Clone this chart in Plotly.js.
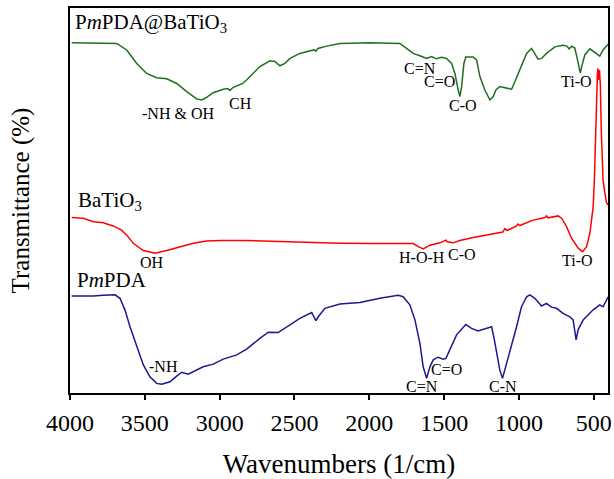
<!DOCTYPE html>
<html>
<head>
<meta charset="utf-8">
<script src="https://cdn.plot.ly/plotly-3.0.1.min.js"></script>
<style>html,body{margin:0;padding:0;background:#fff;}#chart{width:614px;height:479px;}</style>
</head>
<body>
<div id="chart"></div>
<script>
// PmPDA@BaTiO3 (green)
const wnComposite = [3989,3688,3621,3554,3488,3421,3354,3287,3220,3154,3120,3087,3043,2976,2945,2931,2909,2864,2846,2820,2776,2731,2664,2631,2597,2564,2530,2464,2375,2370,2357,2343,2285,2196,1996,1796,1751,1707,1662,1617,1584,1550,1517,1484,1450,1428,1406,1395,1383,1368,1355,1306,1283,1261,1228,1194,1172,1154,1128,1083,1049,1027,994,949,916,894,872,849,816,760,705,680,665,647,627,611,598,590,580,560,526,482,460,438,404];
const tComposite = [91.0,90.8,89.1,85.6,83.0,81.9,81.6,80.4,78.3,76.4,76.1,76.8,78.0,78.9,79.1,78.6,79.4,80.0,80.4,81.3,83.0,84.8,86.3,86.1,85.0,85.6,86.9,88.2,89.1,89.2,88.8,89.5,90.1,90.8,91.0,90.8,89.5,88.2,87.6,86.9,87.4,86.8,87.2,86.9,85.6,83.0,78.7,77.0,79.6,85.6,87.3,87.3,86.5,82.2,78.7,76.1,77.0,78.7,79.6,79.1,78.9,80.9,83.9,88.2,89.5,88.2,86.7,86.9,88.2,89.9,90.3,90.1,89.4,90.1,89.6,87.0,84.4,83.1,84.9,87.8,89.4,88.1,87.5,89.1,90.6];

// BaTiO3 (red)
const wnBaTiO3 = [3989,3911,3844,3778,3711,3655,3621,3577,3510,3432,3354,3265,3176,3087,2998,2820,2508,2196,1976,1707,1673,1640,1595,1528,1488,1480,1440,1395,1306,1216,1128,1108,1094,1079,1016,1007,994,905,827,816,805,738,715,682,649,604,575,548,526,504,496,486,476,472,466,462,456,450,438,426,415,404];
const tBaTiO3 = [45.6,45.4,44.5,44.2,43.4,42.3,41.0,38.9,37.0,36.3,37.0,38.0,38.9,39.5,39.6,39.6,39.2,38.9,38.8,38.8,38.0,37.4,38.4,39.0,39.7,39.3,39.0,39.6,40.4,41.0,41.5,41.8,42.7,42.2,43.4,43.9,43.5,44.9,45.6,46.0,45.5,46.0,45.4,43.2,40.2,37.6,36.7,38.0,41.5,48.4,55.3,70.9,82.6,84.3,81.3,83.9,80.0,68.3,55.3,51.9,49.4,48.8];

// PmPDA (blue)
const wnPmPDA = [3989,3844,3778,3699,3666,3633,3599,3554,3510,3466,3421,3387,3332,3287,3254,3210,3176,3110,3043,2976,2886,2820,2731,2675,2609,2530,2464,2385,2370,2357,2341,2297,2196,2063,1929,1807,1774,1729,1695,1662,1640,1617,1595,1573,1540,1506,1488,1462,1417,1355,1317,1273,1216,1183,1168,1150,1128,1110,1094,1061,1016,983,949,927,894,849,816,783,749,705,660,638,627,618,605,571,504,460,438,404];
const tPmPDA = [25.2,25.2,25.4,25.5,24.6,21.6,17.2,12.0,7.3,4.2,2.5,2.3,2.9,4.4,5.4,4.9,5.5,6.8,7.5,8.8,9.9,11.4,14.2,15.8,15.7,17.7,19.4,20.9,19.8,18.8,19.8,22.0,23.1,23.5,24.6,25.4,25.0,22.9,19.0,12.9,6.8,3.8,6.8,8.6,9.3,8.8,9.0,11.2,15.1,17.8,16.8,16.1,16.8,17.2,14.6,10.3,6.0,3.8,6.0,10.3,17.2,22.4,25.0,25.5,24.6,22.6,23.3,22.3,22.0,20.7,19.8,19.0,16.4,13.8,16.4,19.0,21.6,22.9,22.4,25.0];

const xTicks = [4000,3500,3000,2500,2000,1500,1000,500];

const serif = "Liberation Serif";

const traces = [
  {x: wnComposite, y: tComposite, mode: 'lines', line: {color: '#1f6e1f', width: 1.5}, name: 'PmPDA@BaTiO3'},
  {x: wnBaTiO3, y: tBaTiO3, mode: 'lines', line: {color: '#ff0000', width: 1.5}, name: 'BaTiO3'},
  {x: wnPmPDA, y: tPmPDA, mode: 'lines', line: {color: '#1a1a8e', width: 1.5}, name: 'PmPDA'}
];

function lab(text, x, y, size, xanchor) {
  return {text: text, x: x, y: y, xref: 'x', yref: 'y', showarrow: false,
    xanchor: xanchor || 'center', yanchor: 'middle',
    font: {family: serif, size: size, color: '#000'}};
}

const annotations = [
  lab('P<i>m</i>PDA@BaTiO<sub>3</sub>', 3978, 96.0, 21, 'left'),
  lab('-NH &amp; OH', 3279, 72.5, 16),
  lab('CH', 2864, 75.3, 16),
  lab('C=N', 1662, 84.2, 16),
  lab('C=O', 1528, 80.8, 16),
  lab('C-O', 1375, 74.8, 16),
  lab('Ti-O', 613, 80.8, 16),
  lab('BaTiO<sub>3</sub>', 3960, 49.8, 21, 'left'),
  lab('OH', 3452, 33.8, 16),
  lab('P<i>m</i>PDA', 3967, 29.4, 21, 'left'),
  lab('-NH', 3372, 7.0, 16),
  lab('H-O-H', 1649, 35.1, 16),
  lab('C-O', 1382, 36.1, 16),
  lab('Ti-O', 607, 34.5, 16),
  lab('C=O', 1482, 6.2, 16),
  lab('C=N', 1649, 1.8, 16),
  lab('C-N', 1108, 1.8, 16)
];

const layout = {
  width: 614, height: 479,
  margin: {l: 70, r: 6, t: 8, b: 86},
  paper_bgcolor: '#fff', plot_bgcolor: '#fff',
  font: {family: serif, color: '#000'},
  showlegend: false,
  xaxis: {
    range: [4000, 405], tickvals: xTicks,
    ticks: 'outside', ticklen: 5, tickwidth: 1.5, tickcolor: '#000',
    ticklabelstandoff: 2,
    showgrid: false, zeroline: false, showline: true, linecolor: '#000', linewidth: 1.5, mirror: true,
    tickfont: {family: serif, size: 24, color: '#000'},
    title: {text: 'Wavenumbers (1/cm)', font: {family: serif, size: 27, color: '#000'}, standoff: 22}
  },
  yaxis: {
    range: [0, 100], showticklabels: false, ticks: '',
    showgrid: false, zeroline: false, showline: true, linecolor: '#000', linewidth: 1.5, mirror: true,
    title: {text: 'Transmittance (%)', font: {family: serif, size: 25, color: '#000'}, standoff: 32}
  },
  annotations: annotations
};

Plotly.newPlot('chart', traces, layout, {displayModeBar: false});
</script>
</body>
</html>
